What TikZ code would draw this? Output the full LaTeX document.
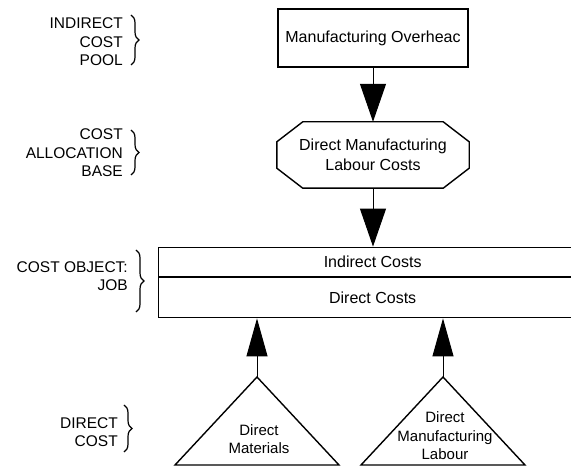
\documentclass[tikz,border=0pt]{standalone}
\usepackage{fontspec}
\setmainfont{Liberation Sans}
\usetikzlibrary{arrows.meta,calc,decorations.pathreplacing}

\tikzset{
    costbox/.style={draw, line width=1.4pt, inner sep=0pt, font=\fontsize{16}{20}\selectfont, align=center},
    flow/.style={line width=1pt, -{Triangle[length=38pt,width=26pt]}},
    flowup/.style={line width=1pt, -{Triangle[length=38pt,width=21pt]}},
    sidetext/.style={anchor=east, align=right, inner sep=0pt, font=\fontsize{15.5}{18.5}\selectfont},
    bracket/.style={line width=1.2pt, decorate, decoration={brace, amplitude=8pt}},
    trilabel/.style={align=center, inner sep=0pt, font=\fontsize{15}{18.5}\selectfont}
}

\begin{document}
\begin{tikzpicture}[x=1pt, y=1pt]
    \useasboundingbox (0,0) rectangle (571,469);

    \node[costbox, minimum width=190, minimum height=58] (overhead) at (373,431) {Manufacturing Overheac};
    \node[inner sep=0pt, minimum width=192, minimum height=66, align=center, font=\fontsize{16}{20}\selectfont] (base) at (373,314) {Direct Manufacturing\\Labour Costs};
    \draw[line width=1.4pt] ($(base.north west)+(26,0)$) -- ($(base.north east)+(-26,0)$) -- ($(base.north east)+(0,-20)$)
        -- ($(base.south east)+(0,20)$) -- ($(base.south east)+(-26,0)$) -- ($(base.south west)+(26,0)$)
        -- ($(base.south west)+(0,20)$) -- ($(base.north west)+(0,-20)$) -- cycle;

    % cost object, runs off the right edge
    \node[costbox, minimum width=428, minimum height=29, anchor=south west] (indirect) at (158,192) {Indirect Costs};
    \node[costbox, minimum width=428, minimum height=40, anchor=north west] (direct) at (158,192) {Direct Costs};

    \draw[flow] (overhead.south) -- (base.north);
    \draw[flow] (base.south) -- (indirect.north -| base.south);

    % direct cost triangles
    \coordinate (matl) at (257,92);
    \coordinate (labr) at (443,92);
    \draw[line width=1.4pt] (matl) -- (339,4) -- (175,4) -- cycle;
    \draw[line width=1.4pt] (labr) -- (525,4) -- (361,4) -- cycle;
    \node[trilabel] (matltext) at (259,30) {Direct\\Materials};
    \node[trilabel] (labrtext) at (445,33) {Direct\\Manufacturing\\Labour};
    \draw[flowup] (matl) -- (direct.south -| matl);
    \draw[flowup] (labr) -- (direct.south -| labr);

    \node[sidetext] (pool) at (123,427) {INDIRECT\\COST\\POOL};
    \node[sidetext] (alloc) at (123,316) {COST\\ALLOCATION\\BASE};
    \node[sidetext] (job) at (128,193) {COST OBJECT:\\JOB};
    \node[sidetext] (dircost) at (118,37) {DIRECT\\COST};
    \draw[bracket] (131,454) -- (131,404);
    \draw[bracket] (131,339) -- (131,294);
    \draw[bracket] (136,219) -- (136,157);
    \draw[bracket] (124,64) -- (124,17);
\end{tikzpicture}
\end{document}
